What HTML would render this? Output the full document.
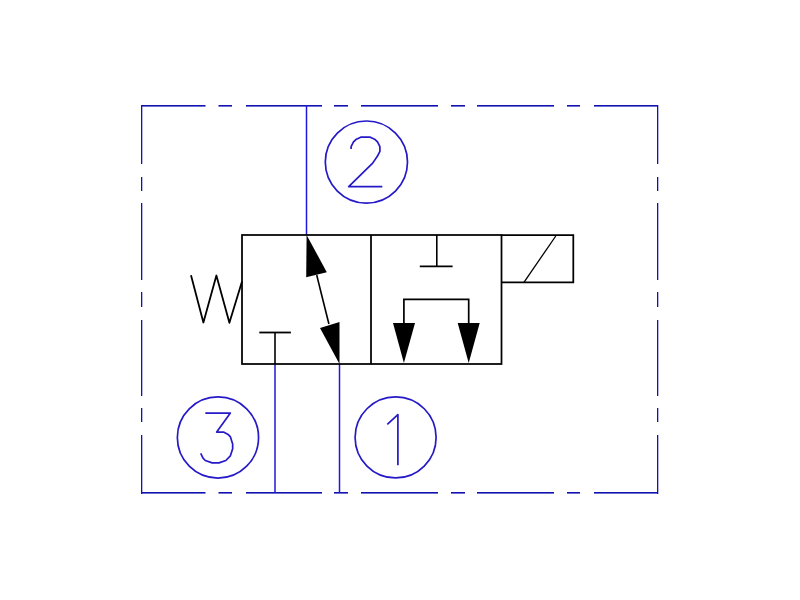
<!DOCTYPE html>
<html><head><meta charset="utf-8"><style>
html,body{margin:0;padding:0;background:#fff;width:800px;height:600px;overflow:hidden;font-family:"Liberation Sans",sans-serif;}
svg{display:block;position:absolute;left:0;top:0;}
</style></head><body>
<svg width="800" height="600" viewBox="0 0 800 600">
<rect width="800" height="600" fill="#fff"/>
<rect x="141" y="105" width="64.5" height="1.6" fill="#1212b0"/><rect x="218.5" y="105" width="13.5" height="1.6" fill="#1212b0"/><rect x="246" y="105" width="76" height="1.6" fill="#1212b0"/><rect x="334" y="105" width="14" height="1.6" fill="#1212b0"/><rect x="361" y="105" width="77" height="1.6" fill="#1212b0"/><rect x="451" y="105" width="14" height="1.6" fill="#1212b0"/><rect x="477" y="105" width="77" height="1.6" fill="#1212b0"/><rect x="567" y="105" width="13" height="1.6" fill="#1212b0"/><rect x="594" y="105" width="64" height="1.6" fill="#1212b0"/><rect x="141" y="492" width="64.5" height="1.6" fill="#1212b0"/><rect x="218.5" y="492" width="13.5" height="1.6" fill="#1212b0"/><rect x="246" y="492" width="76" height="1.6" fill="#1212b0"/><rect x="334" y="492" width="14" height="1.6" fill="#1212b0"/><rect x="361" y="492" width="77" height="1.6" fill="#1212b0"/><rect x="451" y="492" width="14" height="1.6" fill="#1212b0"/><rect x="477" y="492" width="77" height="1.6" fill="#1212b0"/><rect x="567" y="492" width="13" height="1.6" fill="#1212b0"/><rect x="594" y="492" width="64" height="1.6" fill="#1212b0"/><rect x="141" y="105" width="1.3" height="59" fill="#1212b0"/><rect x="141" y="177" width="1.3" height="14" fill="#1212b0"/><rect x="141" y="203" width="1.3" height="77" fill="#1212b0"/><rect x="141" y="292" width="1.3" height="15" fill="#1212b0"/><rect x="141" y="320" width="1.3" height="76" fill="#1212b0"/><rect x="141" y="408" width="1.3" height="14" fill="#1212b0"/><rect x="141" y="435" width="1.3" height="59" fill="#1212b0"/><rect x="657" y="105" width="1.3" height="59" fill="#1212b0"/><rect x="657" y="177" width="1.3" height="14" fill="#1212b0"/><rect x="657" y="203" width="1.3" height="77" fill="#1212b0"/><rect x="657" y="292" width="1.3" height="15" fill="#1212b0"/><rect x="657" y="320" width="1.3" height="76" fill="#1212b0"/><rect x="657" y="408" width="1.3" height="14" fill="#1212b0"/><rect x="657" y="435" width="1.3" height="59" fill="#1212b0"/>
<g fill="none" stroke="#2519c8" stroke-width="1.7">
<circle cx="366.4" cy="162.1" r="41.1"/>
<circle cx="217.95" cy="437.5" r="40.6"/>
<circle cx="395.6" cy="437.4" r="40.5"/>
</g>
<g fill="none" stroke="#2519c8" stroke-width="1.7">
<path d="M351.10,148.99 L351.10,146.63 L353.50,141.92 L355.90,139.56 L360.70,137.20 L370.30,137.20 L375.10,139.56 L377.50,141.92 L379.90,146.63 L379.90,151.34 L377.50,156.06 L372.70,163.13 L348.70,186.70 L382.30,186.70" stroke-linejoin="round"/>
<path d="M205.30,413.11 L230.38,413.11 L216.70,432.08 L223.54,432.08 L228.10,434.45 L230.38,436.82 L232.66,443.93 L232.66,448.67 L230.38,455.79 L225.82,460.53 L218.98,462.90 L212.14,462.90 L205.30,460.53 L203.02,458.16 L200.74,453.42" stroke-linejoin="round"/>
<path d="M387.3,424.3 L397.9,414.6 L397.9,465.2" stroke-linejoin="round"/>
</g>
<g stroke="#1e18dc" stroke-width="1.5" fill="none">
<line x1="306.5" y1="105" x2="306.5" y2="235"/>
<line x1="275" y1="364" x2="275" y2="493"/>
<line x1="339.5" y1="364" x2="339.5" y2="493"/>
</g>
<g stroke="#000" stroke-width="1.75" fill="none">
<rect x="242" y="235" width="259.5" height="129"/>
<line x1="371" y1="235" x2="371" y2="364"/>
<polyline points="501.5,235 573.3,235 573.3,282.4 501.5,282.4"/>
<line x1="523.75" y1="282.6" x2="555.8" y2="236" stroke-width="1.3"/>
<polyline points="191,275.3 203.4,322.5 216.4,275.5 229.4,322.8 242,281.5" stroke-width="1.8" stroke-linejoin="round"/>
<line x1="259.3" y1="332.5" x2="290.9" y2="332.5" stroke-width="1.8"/>
<line x1="275" y1="332.5" x2="275" y2="364" stroke-width="1.6"/>
<line x1="436.8" y1="235" x2="436.8" y2="266.4" stroke-width="1.6"/>
<line x1="419.8" y1="266.4" x2="452.6" y2="266.4" stroke-width="1.8"/>
<polyline points="403.9,323 403.9,299.3 468.7,299.3 468.7,323" stroke-width="1.7"/>
<line x1="316.7" y1="275" x2="328.9" y2="324" stroke-width="1.6"/>
</g>
<g fill="#000">
<polygon points="306.6,235 306.2,277.2 326.8,272.2"/>
<polygon points="339.5,364 339.5,322 320,328"/>
<polygon points="393,323 415,323 403.9,363"/>
<polygon points="457.7,323 479.7,323 468.7,363"/>
</g>
</svg>
</body></html>
